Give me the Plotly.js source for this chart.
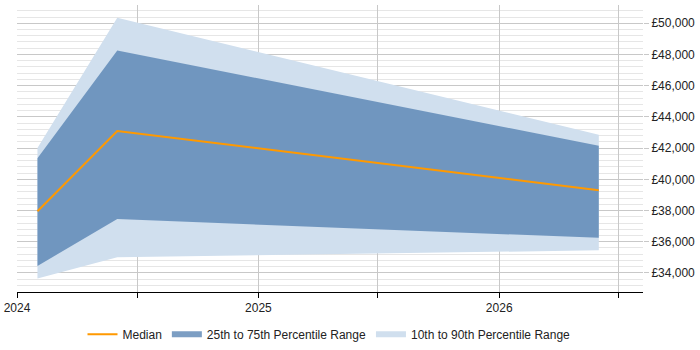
<!DOCTYPE html>
<html>
<head>
<meta charset="utf-8">
<script src="https://cdn.plot.ly/plotly-3.0.1.min.js"></script>
<style>html,body{margin:0;padding:0;background:#fff;}#chart{width:700px;height:350px;}</style>
</head>
<body>
<div id="chart"></div>
<script>
const dates = ['2024-02-01', '2024-06-01', '2026-06-01'];
const p10 = [33650, 35000, 35450];
const p25 = [34450, 37450, 36250];
const median = [37950, 43100, 39300];
const p75 = [41350, 48250, 42150];
const p90 = [42000, 50350, 42850];
const tickDates = ['2024-01-01', '2024-07-01', '2025-01-01', '2025-07-01', '2026-01-01', '2026-07-01'];
const tickLabels = ['2024', '', '2025', '', '2026', ''];

const traces = [
  {x: dates, y: p10, mode: 'lines', line: {width: 0}, showlegend: false, hoverinfo: 'skip'},
  {x: dates, y: p90, mode: 'none', fill: 'tonexty', fillcolor: 'rgb(208,223,238)', name: '10th to 90th Percentile Range', legendrank: 3},
  {x: dates, y: p25, mode: 'lines', line: {width: 0}, showlegend: false, hoverinfo: 'skip'},
  {x: dates, y: p75, mode: 'none', fill: 'tonexty', fillcolor: 'rgba(80,125,175,0.75)', name: '25th to 75th Percentile Range', legendrank: 2},
  {x: dates, y: median, mode: 'lines', line: {color: '#FF9900', width: 2}, name: 'Median', legendrank: 1}
];

const layout = {
  width: 700, height: 350,
  margin: {l: 17, r: 57, t: 5, b: 58, autoexpand: false},
  paper_bgcolor: '#fff', plot_bgcolor: '#fff',
  font: {family: 'Liberation Sans, Arial, sans-serif', size: 12, color: '#222'},
  showlegend: true,
  legend: {orientation: 'h', x: 0.47, xanchor: 'center', xref: 'container', y: 0.045, yanchor: 'middle', yref: 'container', font: {size: 12}, traceorder: 'normal', itemwidth: 30},
  xaxis: {
    type: 'date', range: ['2024-01-01', '2026-08-07'], automargin: false,
    tickmode: 'array', tickvals: tickDates, ticktext: tickLabels,
    showgrid: true, gridcolor: '#c8c8c8', gridwidth: 1,
    showline: true, linecolor: '#000', linewidth: 1,
    ticks: 'outside', ticklen: 5, tickcolor: '#000',
    zeroline: false, tickfont: {size: 12}
  },
  yaxis: {
    side: 'right', range: [32780, 51170], automargin: false,
    tickmode: 'linear', tick0: 34000, dtick: 2000,
    tickprefix: '£', separatethousands: true, tickformat: ',d',
    showgrid: true, gridcolor: '#c8c8c8', gridwidth: 1,
    minor: {dtick: 400, tick0: 34000, showgrid: true, gridcolor: '#e6e6e6', gridwidth: 1},
    ticks: 'outside', ticklen: 5, tickcolor: '#c8c8c8',
    showline: false, zeroline: false, tickfont: {size: 12}
  }
};

Plotly.newPlot('chart', traces, layout, {displayModeBar: false, staticPlot: true});
</script>
</body>
</html>
